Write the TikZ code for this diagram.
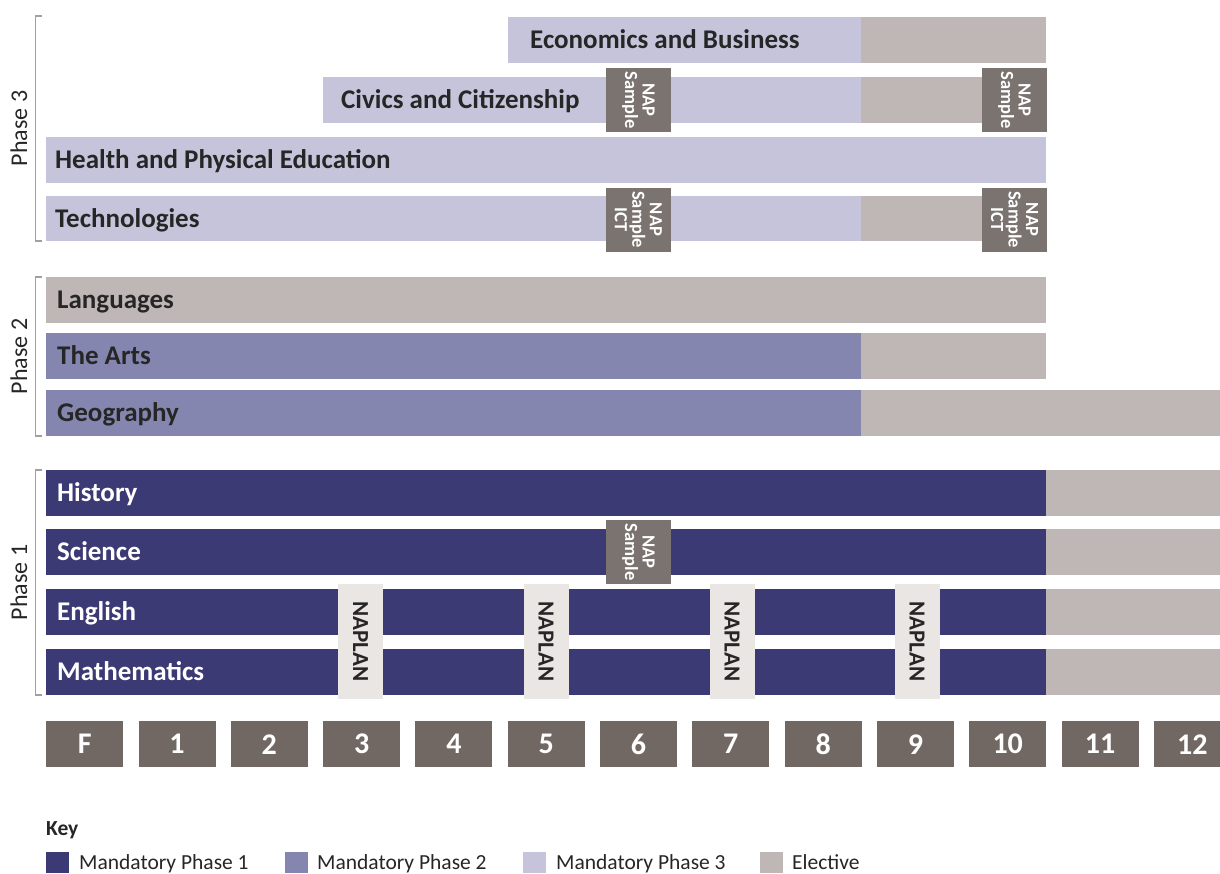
\documentclass[tikz,border=0pt]{standalone}
\usepackage{fontspec}
\setmainfont{Carlito}
\definecolor{phaseone}{RGB}{60,58,117}
\definecolor{phasetwo}{RGB}{133,134,176}
\definecolor{phasethree}{RGB}{198,196,219}
\definecolor{elective}{RGB}{191,183,181}
\definecolor{gradegrey}{RGB}{113,104,100}
\definecolor{napgrey}{RGB}{122,115,112}
\definecolor{naplanbg}{RGB}{234,230,228}
\definecolor{bracketgrey}{RGB}{160,160,160}
\definecolor{darktext}{RGB}{38,38,38}
\newcommand{\subjfont}{\fontsize{27}{30}\selectfont\bfseries}
\newcommand{\phasefont}{\fontsize{24}{28}\selectfont}
\newcommand{\gradefont}{\fontsize{30}{33}\selectfont\bfseries}
\newcommand{\napfont}{\fontsize{18.5}{17.5}\selectfont\bfseries}
\newcommand{\naplanfont}{\fontsize{23}{26}\selectfont\bfseries}
\newcommand{\keyfont}{\fontsize{21.5}{24}\selectfont}

\begin{document}
\begin{tikzpicture}[x = 1pt, y = -1pt,
    bar/.style = {anchor = north west, minimum height = 46, inner sep = 0, outer sep = 0},
    subj/.style = {anchor = base west, inner sep = 0, font = \subjfont, text = darktext},
    napbox/.style = {fill = napgrey, minimum width = 64, minimum height = 65, inner sep = 0,
      rotate = -90, align = center, text = white, font = \napfont},
    naplan/.style = {fill = naplanbg, minimum width = 115, minimum height = 45, inner sep = 0,
      rotate = -90, text = darktext, font = \naplanfont},
    grade/.style = {anchor = north west, fill = gradegrey, minimum width = 77, minimum height = 46,
      inner sep = 0, text = white, font = \gradefont},
    phase/.style = {rotate = 90, inner sep = 0, text = darktext, font = \phasefont},
    brace/.style = {draw = bracketgrey, line width = 1.3},
    keysq/.style = {anchor = north west, minimum width = 23, minimum height = 21, inner sep = 0},
    keytxt/.style = {anchor = base west, inner sep = 0, font = \keyfont, text = darktext}]
  \useasboundingbox (0, 0) rectangle (1220, 873);

  % phase 3
  \node[bar, fill = phasethree, minimum width = 353.9] (econ) at (507.5, 17) {};
  \node[bar, fill = elective, minimum width = 184.6] (econel) at (861.4, 17) {};
  \node[subj] (econlbl) at (530, 48.5) {Economics and Business};
  \node[bar, fill = phasethree, minimum width = 538.5] (civ) at (322.9, 77) {};
  \node[bar, fill = elective, minimum width = 184.6] (civel) at (861.4, 77) {};
  \node[subj] (civlbl) at (341, 108.5) {Civics and Citizenship};
  \node[napbox] (civnapa) at (638.3, 100) {NAP\\Sample};
  \node[napbox] (civnapb) at (1014.5, 100) {NAP\\Sample};
  \node[bar, fill = phasethree, minimum width = 1000] (hpe) at (46, 137) {};
  \node[subj] (hpelbl) at (55, 168.5) {Health and Physical Education};
  \node[bar, fill = phasethree, minimum width = 815.4, minimum height = 45] (tech) at (46, 196) {};
  \node[bar, fill = elective, minimum width = 184.6, minimum height = 45] (techel) at (861.4, 196) {};
  \node[subj] (techlbl) at (55, 227) {Technologies};
  \node[napbox] (technapa) at (638.3, 219.5) {NAP\\Sample\\ICT};
  \node[napbox] (technapb) at (1014.5, 219.5) {NAP\\Sample\\ICT};

  % phase 2
  \node[bar, fill = elective, minimum width = 1000] (lang) at (46, 277) {};
  \node[subj] (langlbl) at (57, 308.5) {Languages};
  \node[bar, fill = phasetwo, minimum width = 815.4] (arts) at (46, 333) {};
  \node[bar, fill = elective, minimum width = 184.6] (artsel) at (861.4, 333) {};
  \node[subj] (artslbl) at (57, 364.5) {The Arts};
  \node[bar, fill = phasetwo, minimum width = 815.4] (geo) at (46, 390) {};
  \node[bar, fill = elective, minimum width = 358.6] (geoel) at (861.4, 390) {};
  \node[subj] (geolbl) at (57, 421.5) {Geography};

  % phase 1
  \node[bar, fill = phaseone, minimum width = 1000] (hist) at (46, 470) {};
  \node[bar, fill = elective, minimum width = 174] (histel) at (1046, 470) {};
  \node[subj, text = white] (histlbl) at (57, 501.5) {History};
  \node[bar, fill = phaseone, minimum width = 1000] (sci) at (46, 529) {};
  \node[bar, fill = elective, minimum width = 174] (sciel) at (1046, 529) {};
  \node[subj, text = white] (scilbl) at (57, 560.5) {Science};
  \node[napbox] (scinap) at (638.3, 552) {NAP\\Sample};
  \node[bar, fill = phaseone, minimum width = 1000] (eng) at (46, 589) {};
  \node[bar, fill = elective, minimum width = 174] (engel) at (1046, 589) {};
  \node[subj, text = white] (englbl) at (57, 620.5) {English};
  \node[bar, fill = phaseone, minimum width = 1000] (math) at (46, 649) {};
  \node[bar, fill = elective, minimum width = 174] (mathel) at (1046, 649) {};
  \node[subj, text = white] (mathlbl) at (57, 680.5) {Mathematics};
  \node[naplan] (naplanc) at (360.5, 641.5) {NAPLAN};
  \node[naplan] (naplane) at (546, 641.5) {NAPLAN};
  \node[naplan] (naplang) at (732, 641.5) {NAPLAN};
  \node[naplan] (naplani) at (917, 641.5) {NAPLAN};

  % brackets
  \draw[brace] (42, 16) -- (35.5, 16) -- (35.5, 241) -- (42, 241);
  \node[phase] (phthree) at (19, 128.5) {Phase 3};
  \draw[brace] (42, 277) -- (35.5, 277) -- (35.5, 436) -- (42, 436);
  \node[phase] (phtwo) at (19, 356.5) {Phase 2};
  \draw[brace] (42, 470) -- (35.5, 470) -- (35.5, 695) -- (42, 695);
  \node[phase] (phone) at (19, 582.5) {Phase 1};

  % year levels
  \node[grade] (yf) at (46, 721) {F};
  \node[grade] (y1) at (138.3, 721) {1};
  \node[grade] (y2) at (230.6, 721) {2};
  \node[grade] (y3) at (322.9, 721) {3};
  \node[grade] (y4) at (415.2, 721) {4};
  \node[grade] (y5) at (507.5, 721) {5};
  \node[grade] (y6) at (599.8, 721) {6};
  \node[grade] (y7) at (692.1, 721) {7};
  \node[grade] (y8) at (784.4, 721) {8};
  \node[grade] (y9) at (876.7, 721) {9};
  \node[grade] (y10) at (969, 721) {10};
  \node[grade] (y11) at (1061.3, 721) {11};
  \node[grade] (y12) at (1153.6, 721) {12};

  % key
  \node[keytxt, font = \keyfont\bfseries] (key) at (46, 835) {Key};
  \node[keysq, fill = phaseone] (kone) at (46, 852) {};
  \node[keytxt] (konelbl) at (79, 869) {Mandatory Phase 1};
  \node[keysq, fill = phasetwo] (ktwo) at (285, 852) {};
  \node[keytxt] (ktwolbl) at (317, 869) {Mandatory Phase 2};
  \node[keysq, fill = phasethree] (kthree) at (523, 852) {};
  \node[keytxt] (kthreelbl) at (556, 869) {Mandatory Phase 3};
  \node[keysq, fill = elective] (kel) at (760, 852) {};
  \node[keytxt] (kellbl) at (792, 869) {Elective};
\end{tikzpicture}
\end{document}
